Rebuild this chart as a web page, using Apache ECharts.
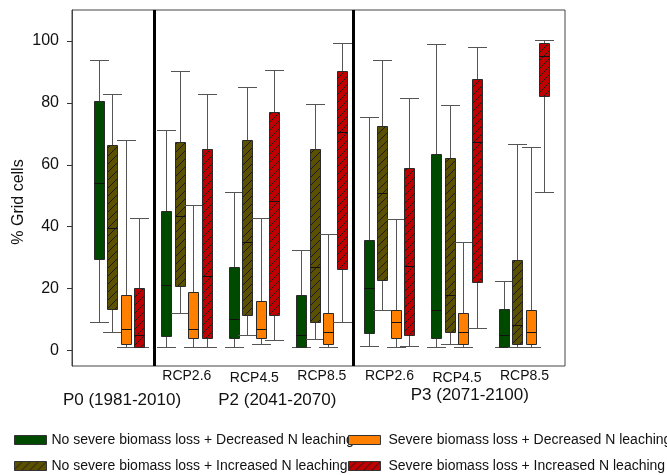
<!DOCTYPE html>
<html>
<head>
<meta charset="utf-8">
<script src="https://cdn.jsdelivr.net/npm/echarts@6/dist/echarts.min.js"></script>
<style>
html, body { margin: 0; padding: 0; background: #fff; }
#main { width: 667px; height: 475px; }
</style>
</head>
<body>
<div id="main"></div>
<script>
// group labels (x positions are group index 0..6)
var rcpLabels = ['', 'RCP2.6', 'RCP4.5', 'RCP8.5', 'RCP2.6', 'RCP4.5', 'RCP8.5'];
var periodLabels = ['P0 (1981-2010)', 'P2 (2041-2070)', 'P3 (2071-2100)'];
var periodPos = [0.04, 2.34, 5.19];
var separatorsAt = [0.52, 3.47];
var yTicks = [0, 20, 40, 60, 80, 100];

var seriesNames = [
    'No severe biomass loss + Decreased N leaching',
    'No severe biomass loss + Increased N leaching',
    'Severe biomass loss + Decreased N leaching',
    'Severe biomass loss + Increased N leaching'
];

// [low whisker, q1, median, q3, high whisker] per group
var greenStats = [
    [9.2, 29.4, 54.0, 80.6, 93.6],
    [1.0, 4.4, 20.9, 45.0, 71.0],
    [1.0, 3.9, 9.9, 26.9, 51.0],
    [1.0, 1.0, 5.0, 17.9, 32.2],
    [1.3, 5.5, 20.1, 35.5, 75.4],
    [1.0, 3.9, 12.9, 63.2, 99.0],
    [1.0, 1.0, 5.0, 13.4, 22.2]
];
var oliveStats = [
    [5.9, 13.3, 39.4, 66.1, 82.6],
    [12.0, 20.7, 43.4, 67.3, 90.2],
    [5.0, 11.4, 34.9, 68.0, 85.0],
    [3.4, 8.9, 26.9, 64.9, 79.6],
    [12.9, 22.5, 50.6, 72.3, 93.6],
    [2.0, 5.9, 17.9, 61.9, 79.0],
    [1.0, 2.0, 8.0, 29.0, 66.7]
];
var orangeStats = [
    [1.0, 2.0, 6.9, 17.9, 68.0],
    [1.0, 3.9, 6.9, 18.9, 46.8],
    [2.0, 3.9, 6.9, 15.9, 42.5],
    [1.0, 2.0, 5.9, 12.0, 37.5],
    [1.0, 3.9, 8.9, 12.9, 42.3],
    [1.0, 2.0, 5.9, 12.0, 34.9],
    [1.0, 2.0, 5.9, 12.9, 65.7]
];
var redStats = [
    [1.0, 1.0, 5.0, 19.9, 42.7],
    [1.0, 3.9, 23.9, 64.9, 82.6],
    [3.1, 11.4, 48.0, 77.0, 90.5],
    [8.9, 26.2, 70.5, 90.1, 99.2],
    [1.2, 5.0, 27.0, 58.9, 81.3],
    [7.0, 22.0, 67.1, 87.5, 98.0],
    [51.0, 82.0, 94.9, 99.2, 100.0]
];

var FONT = "'Liberation Sans', Arial, sans-serif";

// hatch pattern  "/"
function hatch(color) {
    var c = document.createElement('canvas');
    c.width = 8; c.height = 8;
    var ctx = c.getContext('2d');
    ctx.fillStyle = color;
    ctx.fillRect(0, 0, 8, 8);
    ctx.strokeStyle = '#1a1a1a';
    ctx.lineWidth = 1;
    ctx.beginPath();
    ctx.moveTo(-1, 9); ctx.lineTo(9, -1);
    ctx.moveTo(-1, 1); ctx.lineTo(1, -1);
    ctx.moveTo(7, 9); ctx.lineTo(9, 7);
    ctx.stroke();
    return { image: c, repeat: 'repeat' };
}

var fills = ['#004a00', hatch('#5a5000'), '#ff8000', hatch('#c00000')];
var offsets = [-0.3, -0.1, 0.1, 0.3];
var allStats = [greenStats, oliveStats, orangeStats, redStats];
var boxWidth = 0.155;
var capWidth = 0.28;

function crisp(v) { return Math.round(v - 0.5) + 0.5; }

function boxRender(offset, fill) {
    return function (params, api) {
        var x = api.value(0) + offset;
        var cx = crisp(api.coord([x, 0])[0]);
        var bw = api.size([boxWidth, 0])[0];
        var cw = api.size([capWidth, 0])[0];
        var yLow = crisp(api.coord([x, api.value(1)])[1]);
        var yQ1 = crisp(api.coord([x, api.value(2)])[1]);
        var yMed = crisp(api.coord([x, api.value(3)])[1]);
        var yQ3 = crisp(api.coord([x, api.value(4)])[1]);
        var yHigh = crisp(api.coord([x, api.value(5)])[1]);
        var bl = crisp(cx - bw / 2), br = crisp(cx + bw / 2);
        var wl = { stroke: '#555', lineWidth: 1 };
        return {
            type: 'group',
            children: [
                { type: 'line', shape: { x1: cx, y1: yQ3, x2: cx, y2: yHigh }, style: wl },
                { type: 'line', shape: { x1: cx, y1: yQ1, x2: cx, y2: yLow }, style: wl },
                { type: 'line', shape: { x1: Math.round(cx - cw / 2), y1: yHigh, x2: Math.round(cx + cw / 2), y2: yHigh }, style: wl },
                { type: 'line', shape: { x1: Math.round(cx - cw / 2), y1: yLow, x2: Math.round(cx + cw / 2), y2: yLow }, style: wl },
                { type: 'rect', shape: { x: bl, y: yQ3, width: br - bl, height: yQ1 - yQ3 },
                  style: { fill: fill, stroke: '#2a2a2a', lineWidth: 1 } },
                { type: 'line', shape: { x1: bl, y1: yMed, x2: br, y2: yMed }, style: { stroke: '#111', lineWidth: 1 } }
            ]
        };
    };
}

var series = allStats.map(function (stats, s) {
    return {
        name: seriesNames[s],
        type: 'custom',
        renderItem: boxRender(offsets[s], fills[s]),
        itemStyle: { color: fills[s] },
        encode: { x: 0, y: [1, 2, 3, 4, 5] },
        data: stats.map(function (d, i) { return [i].concat(d); })
    };
});

// thick period separators
series.push({
    type: 'line',
    data: [],
    markLine: {
        silent: true,
        symbol: 'none',
        label: { show: false },
        lineStyle: { color: '#000', width: 3, type: 'solid' },
        data: separatorsAt.map(function (v) { return { xAxis: v }; })
    }
});

// one legend per entry, 2 x 2 layout
var legendPos = [[14, 433], [14, 459], [348, 433], [348, 459]];
var legends = seriesNames.map(function (name, i) {
    return {
        orient: 'horizontal', left: legendPos[i][0], top: legendPos[i][1], padding: 0,
        itemWidth: 32, itemHeight: 9, icon: 'rect', selectedMode: false,
        textStyle: { color: '#111', fontSize: 14, fontFamily: FONT, padding: i > 1 ? [0, 0, 0, 3] : 0 },
        data: [{ name: name, itemStyle: { color: fills[i], borderColor: '#333', borderWidth: 1 } }]
    };
});

var myChart = echarts.init(document.getElementById('main'));
var option = {
    animation: false,
    grid: { left: 72, right: 102, top: 10, bottom: 109, show: true, borderColor: '#444', borderWidth: 1 },
    xAxis: [
        {
            type: 'value', min: -0.7, max: 6.6,
            axisLine: { show: false }, axisTick: { show: false }, splitLine: { show: false },
            axisLabel: {
                customValues: [1, 2, 3, 4, 5, 6],
                margin: 3,
                color: '#111', fontSize: 14, fontFamily: FONT,
                formatter: function (v) {
                    var t = rcpLabels[Math.round(v)];
                    return t === 'RCP4.5' ? '{low|' + t + '}' : t;
                },
                rich: { low: { padding: [2, 0, 0, 0], color: '#111', fontSize: 14, fontFamily: FONT } }
            }
        },
        {
            type: 'value', min: -0.7, max: 6.6, position: 'bottom',
            axisLine: { show: false }, axisTick: { show: false }, splitLine: { show: false },
            axisLabel: {
                customValues: periodPos,
                margin: 21,
                color: '#111', fontSize: 17, fontFamily: FONT,
                formatter: function (v, i) {
                    var k = periodPos.indexOf(v);
                    if (k < 0) k = i;
                    return k < 2 ? '{low|' + periodLabels[k] + '}' : periodLabels[k];
                },
                rich: { low: { padding: [5, 0, 0, 0], color: '#111', fontSize: 17, fontFamily: FONT } }
            }
        }
    ],
    yAxis: {
        type: 'value', min: -5, max: 110,
        axisLine: { show: true, onZero: false, lineStyle: { color: '#444' } },
        axisTick: { show: true, customValues: yTicks, length: 5, lineStyle: { color: '#333' } },
        splitLine: { show: false },
        axisLabel: { customValues: yTicks, margin: 13, color: '#111', fontSize: 16, fontFamily: FONT }
    },
    legend: legends,
    graphic: [
        {
            type: 'text', x: 19, y: 202, rotation: Math.PI / 2,
            style: { text: '% Grid cells', fill: '#111', font: '16px ' + FONT, align: 'center', verticalAlign: 'middle' }
        }
    ],
    series: series
};
myChart.setOption(option);
</script>
</body>
</html>
